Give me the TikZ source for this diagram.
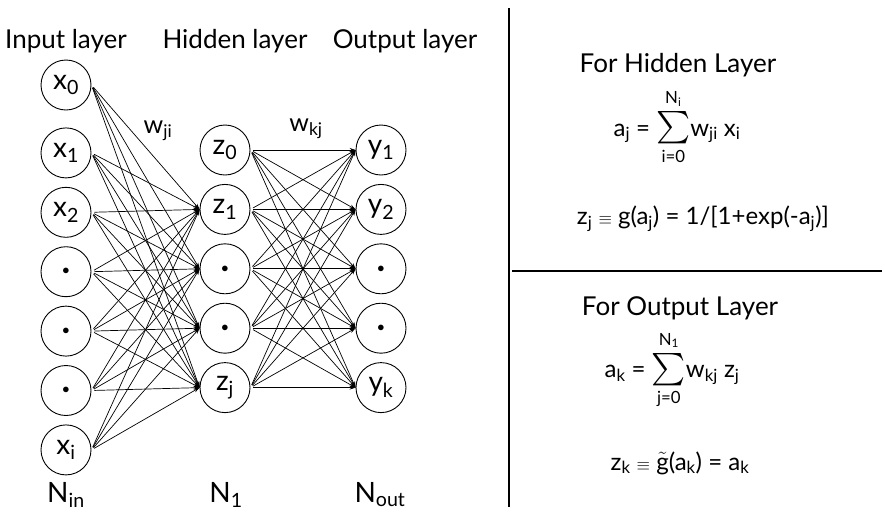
\documentclass[tikz,border=0pt]{standalone}
\usepackage{amsmath}
\usepackage{graphicx}
\usepackage{fontspec}
\setmainfont{Lato}
\usepackage{tikz}
\usetikzlibrary{arrows.meta,positioning}
\definecolor{ink}{HTML}{000000}
\tikzset{
  neuron/.style={
    circle,
    draw=ink,
    line width=0.9pt,
    minimum size=50pt,
    inner sep=0pt,
    font=\fontsize{28}{30}\selectfont
  },
  layer label/.style={anchor=base, font=\fontsize{26}{30}\selectfont},
  size label/.style={anchor=base, font=\fontsize{28}{30}\selectfont},
  weight label/.style={font=\fontsize{25}{28}\selectfont},
  synapse/.style={
    -{Stealth[length=6pt,width=4pt]},
    draw=ink,
    line width=0.7pt,
    shorten <=3pt
  },
  divider/.style={draw=ink, line width=2.2pt},
  heading/.style={font=\fontsize{26}{30}\selectfont},
  eqn/.style={align=center, inner sep=0pt}
}
\newcommand{\unitdot}{{\fontsize{15}{15}\selectfont$\bullet$}}
\newcommand{\bigsum}{\mathop{\scalebox{1.3}{$\sum$}}\limits}
\newcommand{\defeq}{{\fontsize{17}{17}\selectfont$\equiv$}}
\newcommand{\lowlim}[1]{\text{\raisebox{-3pt}{#1}}}
\newcommand{\uplim}[1]{\text{\raisebox{3pt}{#1}}}

\begin{document}
\begin{tikzpicture}[
  x=1pt, y=-1pt,
  font=\fontsize{24}{29}\selectfont,
  node distance=8.5pt
]
\useasboundingbox (0,0) rectangle (885,515);

% ---- Layer titles ----
\node[layer label] (intitle)  at (66,48)  {Input layer};
\node[layer label] (hidtitle) at (235,48) {Hidden layer};
\node[layer label] (outtitle) at (405,48) {Output layer};

% ---- Input layer ----
\node[neuron] (in0) at (66,85) {x\textsubscript{0}};
\node[neuron, below=17pt of in0] (in1) {x\textsubscript{1}};
\node[neuron, below=of in1] (in2) {x\textsubscript{2}};
\node[neuron, below=of in2] (in3) {\unitdot};
\node[neuron, below=of in3] (in4) {\unitdot};
\node[neuron, below=of in4] (in5) {\unitdot};
\node[neuron, below=of in5] (in6) {x\textsubscript{i}};

% ---- Hidden layer ----
\node[neuron] (hid0) at (225,150) {z\textsubscript{0}};
\node[neuron, below=of hid0] (hid1) {z\textsubscript{1}};
\node[neuron, below=of hid1] (hid2) {\unitdot};
\node[neuron, below=of hid2] (hid3) {\unitdot};
\node[neuron, below=of hid3] (hid4) {z\textsubscript{j}};

% ---- Output layer ----
\node[neuron] (out0) at (381,150) {y\textsubscript{1}};
\node[neuron, below=of out0] (out1) {y\textsubscript{2}};
\node[neuron, below=of out1] (out2) {\unitdot};
\node[neuron, below=of out2] (out3) {\unitdot};
\node[neuron, below=of out3] (out4) {y\textsubscript{k}};

% ---- Layer sizes and weights ----
\node[size label] (nin)  at (66,502)  {N\textsubscript{in}};
\node[size label] (nhid) at (226,502) {N\textsubscript{1}};
\node[size label] (nout) at (380,502) {N\textsubscript{out}};
\node[weight label] (wji) at (158,131) {w\textsubscript{ji}};
\node[weight label] (wkj) at (306,129) {w\textsubscript{kj}};

% ---- Connections (bias z0 takes no input) ----
\foreach \i in {0,...,6}
  \foreach \j in {1,...,4}
    \draw[synapse] (in\i.east) -- (hid\j.west);
\foreach \j in {0,...,4}
  \foreach \k in {0,...,4}
    \draw[synapse] (hid\j.east) -- (out\k.west);

% ---- Equations panel ----
\coordinate (divtop) at (509,8);
\coordinate (divbot) at (509,507);
\coordinate (sepleft) at (512,271);
\coordinate (sepright) at (882,271);
\draw[divider] (divtop) -- (divbot);
\draw[divider, line width=2pt] (sepleft) -- (sepright);

\node[heading] (hidhead) at (678,65) {For Hidden Layer};
\node[eqn] (hidsum) at (677,127) {a\textsubscript{j} =
  $\bigsum_{\lowlim{i=0}}^{\uplim{N\textsubscript{i}}}$w\textsubscript{ji} x\textsubscript{i}};
\node[eqn] (hidact) at (703,219) {z\textsubscript{j} \defeq{} g(a\textsubscript{j}) = 1/[1+exp(-a\textsubscript{j})]};

\node[heading] (outhead) at (680,308) {For Output Layer};
\node[eqn] (outsum) at (672,370) {a\textsubscript{k} =
  $\bigsum_{\lowlim{j=0}}^{\uplim{N\textsubscript{1}}}$w\textsubscript{kj} z\textsubscript{j}};
\node[eqn] (outact) at (680,463) {z\textsubscript{k} \defeq{} $\tilde{\text{g}}$(a\textsubscript{k}) = a\textsubscript{k}};

\end{tikzpicture}
\end{document}
